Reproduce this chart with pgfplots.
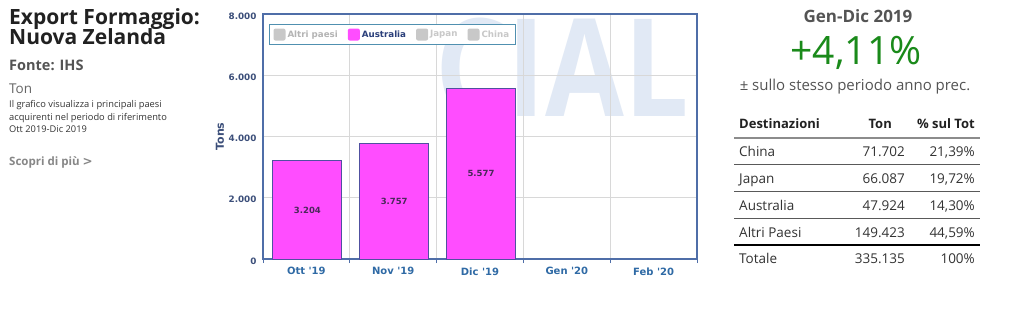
\documentclass[border=0pt]{standalone}
\usepackage{pgfplots}
\pgfplotsset{compat=1.18}
\usepackage{fontspec}
\setmainfont{Open Sans}
\newfontfamily\dv{DejaVu Sans}
\definecolor{axisblue}{HTML}{4F6EA8}
\definecolor{xlab}{HTML}{2F6AA5}
\definecolor{ylab}{HTML}{3C4F7A}
\definecolor{barfill}{HTML}{FF4DFF}
\definecolor{bardraw}{HTML}{5050A0}
\definecolor{lgray}{HTML}{C8C8C8}
\definecolor{wm}{HTML}{E1E9F5}
\definecolor{gridc}{HTML}{D8D8D8}
\definecolor{green1}{HTML}{1A8A1A}
\definecolor{legdraw}{HTML}{5090B0}
\definecolor{austext}{HTML}{2A3F7A}
\definecolor{bartext}{HTML}{4A2A5A}
\pgfplotsset{
  mylegend/.style={legend image code/.code={\fill[##1,draw=none,rounded corners=2pt] (0pt,-6pt) rectangle (12pt,6pt);}},
  /pgf/number format/set thousands separator={.},
  /pgf/number format/assume math mode=true,
}
\begin{document}
\begin{tikzpicture}[x=1pt,y=-1pt]
\fill[white] (0,0) rectangle (1024,323);
% left panel
\node[anchor=base west,inner sep=0,text=black!87,font=\fontsize{21}{24}\selectfont\bfseries] at (9,25) {Export Formaggio:};
\node[anchor=base west,inner sep=0,text=black!87,font=\fontsize{21}{24}\selectfont\bfseries] at (9,45) {Nuova Zelanda};
\node[anchor=base west,inner sep=0,text=black!67,font=\fontsize{14.5}{16}\selectfont\bfseries] at (9,71) {Fonte: IHS};
\node[anchor=base west,inner sep=0,text=black!60,font=\fontsize{13.5}{16}\selectfont] at (9,94) {Ton};
\node[anchor=base west,inner sep=0,text=black!80,font=\fontsize{9.3}{11}\selectfont] at (9,108) {Il grafico visualizza i principali paesi};
\node[anchor=base west,inner sep=0,text=black!80,font=\fontsize{9.3}{11}\selectfont] at (9,120.5) {acquirenti nel periodo di riferimento};
\node[anchor=base west,inner sep=0,text=black!80,font=\fontsize{9.3}{11}\selectfont] at (9,133) {Ott 2019-Dic 2019};
\node[anchor=base west,inner sep=0,text=black!47,font=\fontsize{11.5}{13}\selectfont\bfseries] at (9,166) {Scopri di più \raisebox{0.3pt}{\dv\bfseries\fontsize{12}{13}\selectfont >}};
% right panel
\node[anchor=base,inner sep=0,text=black!67,font=\fontsize{17}{19}\selectfont\bfseries] at (858,23) {Gen-Dic 2019};
\node[anchor=base,inner sep=0,text=green1,font=\fontsize{39}{44}\selectfont] at (856,65) {+4,11\%};
\node[anchor=base,inner sep=0,text=black!67,font=\fontsize{15}{17}\selectfont] at (855,91) {± sullo stesso periodo anno prec.};
\begin{scope}[font=\fontsize{13.5}{15}\selectfont, text=black!80]
\node[anchor=base west,inner sep=0,text=black!87,font=\fontsize{13}{15}\selectfont\bfseries] at (739,129) {Destinazioni};
\node[anchor=base east,inner sep=0,text=black!87,font=\fontsize{13}{15}\selectfont\bfseries] at (892,129) {Ton};
\node[anchor=base east,inner sep=0,text=black!87,font=\fontsize{13}{15}\selectfont\bfseries] at (975,129) {\% sul Tot};
\node[anchor=base west,inner sep=0] at (739,157) {China};
\node[anchor=base east,inner sep=0] at (905,157) {71.702};
\node[anchor=base east,inner sep=0] at (975,157) {21,39\%};
\node[anchor=base west,inner sep=0] at (739,183) {Japan};
\node[anchor=base east,inner sep=0] at (905,183) {66.087};
\node[anchor=base east,inner sep=0] at (975,183) {19,72\%};
\node[anchor=base west,inner sep=0] at (739,210) {Australia};
\node[anchor=base east,inner sep=0] at (905,210) {47.924};
\node[anchor=base east,inner sep=0] at (975,210) {14,30\%};
\node[anchor=base west,inner sep=0] at (739,237) {Altri Paesi};
\node[anchor=base east,inner sep=0] at (905,237) {149.423};
\node[anchor=base east,inner sep=0] at (975,237) {44,59\%};
\node[anchor=base west,inner sep=0] at (739,263) {Totale};
\node[anchor=base east,inner sep=0] at (905,263) {335.135};
\node[anchor=base east,inner sep=0] at (975,263) {100\%};
\end{scope}
\draw[black!45,line width=1.5pt] (734,138) -- (980,138);
\draw[black!65,line width=0.8pt] (734,164) -- (980,164);
\draw[black!65,line width=0.8pt] (734,191) -- (980,191);
\draw[black!65,line width=0.8pt] (734,218) -- (980,218);
\draw[black,line width=2pt] (734,245) -- (980,245);
% watermark
\node[anchor=base,inner sep=0,text=wm,font=\fontsize{136}{136}\selectfont\bfseries,xscale=0.84] at (562,117) {CIAL};
\begin{axis}[
  at={(263pt,-259pt)}, anchor=south west,
  scale only axis, width=434pt, height=245pt,
  xmin=-0.5, xmax=4.5, ymin=0, ymax=8000,
  xtick={0,1,2,3,4},
  xticklabels={Ott '19,Nov '19,Dic '19,Gen '20,Feb '20},
  minor xtick={-0.5,0.5,1.5,2.5,3.5,4.5},
  ytick={0,2000,4000,6000,8000},
  xminorgrids, ymajorgrids,
  major grid style={draw=gridc,line width=1pt},
  minor grid style={draw=gridc,line width=1pt},
  major tick length=0pt, minor tick length=4pt,
  tick align=outside, tick pos=left,
  minor tick style={draw=axisblue,line width=1pt},
  axis line style={draw=axisblue,line width=1.8pt},
  xticklabel style={font=\dv\bfseries\fontsize{10}{11}\selectfont,text=xlab,yshift=-5pt},
  yticklabel style={font=\dv\bfseries\fontsize{8.8}{10}\selectfont,text=ylab,yshift=-2pt,xshift=-3pt},
  ylabel={Tons},
  every axis y label/.style={at={(axis description cs:-0.099,0.5)},rotate=90,anchor=center,font=\dv\bfseries\fontsize{11}{12}\selectfont,text=ylab},
  legend columns=4,
  legend style={at={(0,1)},anchor=north west,xshift=6pt,yshift=-10pt,draw=legdraw,line width=1pt,
    font=\dv\bfseries\fontsize{8.7}{10}\selectfont, inner ysep=4pt, inner xsep=4pt,
    /tikz/every even column/.append style={column sep=8pt}},
]
\addlegendimage{fill=lgray,mylegend}
\addlegendentry{\textcolor{lgray!90!black}{Altri paesi}}
\addplot[ybar,bar width=69pt,bar shift=1pt,fill=barfill,draw=bardraw,line width=1pt,mylegend] coordinates {(0,3204) (1,3757) (2,5577)};
\addlegendentry{\textcolor{austext}{Australia}}
\addplot[draw=none,mark=none,forget plot,nodes near coords,point meta=explicit,
  every node near coord/.append style={anchor=center,xshift=1pt,font=\dv\bfseries\fontsize{8.5}{9}\selectfont,text=bartext}]
  coordinates {(0,1602) [3204] (1,1878.5) [3757] (2,2788.5) [5577]};
\addlegendimage{fill=lgray,mylegend}
\addlegendentry{\textcolor{lgray}{Japan}}
\addlegendimage{fill=lgray,mylegend}
\addlegendentry{\textcolor{lgray}{China}}
\end{axis}
\end{tikzpicture}
\end{document}
